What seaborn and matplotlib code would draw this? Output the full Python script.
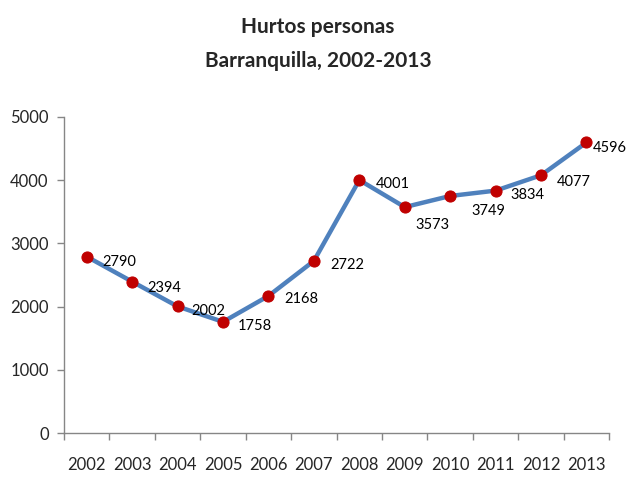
import matplotlib
matplotlib.use('Agg')
import matplotlib.pyplot as plt
import seaborn as sns
import pandas as pd

years = ['2002', '2003', '2004', '2005', '2006', '2007',
         '2008', '2009', '2010', '2011', '2012', '2013']
hurtos = [2790, 2394, 2002, 1758, 2168, 2722,
          4001, 3573, 3749, 3834, 4077, 4596]

df = pd.DataFrame({'year': years, 'hurtos': hurtos})

sns.set_style('white')
plt.rcParams['font.family'] = ['Lato', 'DejaVu Sans']

fig = plt.figure(figsize=(6.3, 4.83), dpi=100)
ax = fig.add_axes([0.1016, 0.1035, 0.8654, 0.6545])

sns.lineplot(data=df, x='year', y='hurtos', ax=ax, color='#4F81BD',
             linewidth=3.2, marker='o', markersize=8,
             markerfacecolor='#C00000', markeredgecolor='#C00000', sort=False)

# label offsets in pixels (right, down), like the Excel auto placement
label_off = [(16, -5), (15, -6), (14, -5), (15, -4), (16, -3), (16, -4),
             (16, -4), (11, -18), (21, -15), (15, -4), (16, -7), (6, -6)]
for i, (y, v) in enumerate(zip(years, hurtos)):
    ax.annotate(str(v), (i, v), xytext=label_off[i], textcoords='offset pixels',
                ha='left', va='center', fontsize=10.5, color='black')

ax.set_xlim(-0.5, len(years) - 0.5)
ax.set_ylim(0, 5000)
ax.set_yticks(range(0, 5001, 1000))
ax.set_xticks(range(len(years)))
ax.set_xticklabels(years, fontsize=12)
ax.tick_params(axis='y', labelsize=12, length=5, width=1, color='#868686',
               direction='out', left=True, pad=6)
ax.tick_params(axis='x', which='major', length=0, pad=17)
ax.set_xticks([i - 0.5 for i in range(len(years) + 1)], minor=True)
ax.tick_params(axis='x', which='minor', length=5, width=1, color='#868686',
               direction='out', bottom=True)
ax.set_xlabel('')
ax.set_ylabel('')
ax.grid(False)
for s in ['top', 'right']:
    ax.spines[s].set_visible(False)
for s in ['left', 'bottom']:
    ax.spines[s].set_color('#868686')
    ax.spines[s].set_linewidth(1)

fig.text(0.505, 0.944, 'Hurtos personas', ha='center', va='center',
         fontsize=15, fontweight='bold')
fig.text(0.505, 0.874, 'Barranquilla, 2002-2013', ha='center', va='center',
         fontsize=15, fontweight='bold')

fig.savefig('out.png', dpi=100)
